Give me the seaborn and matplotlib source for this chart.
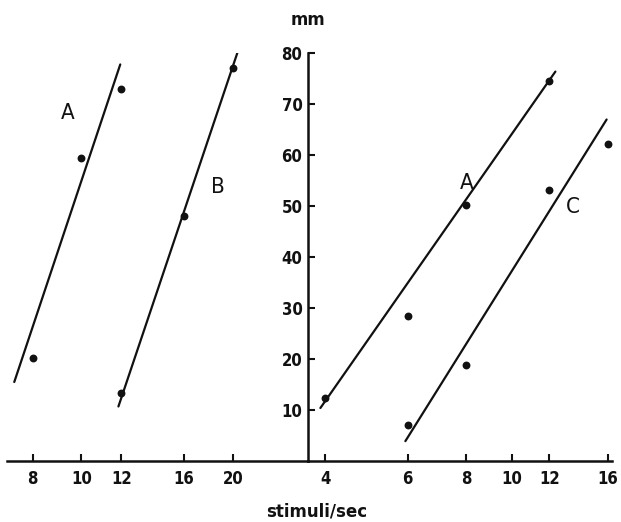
import numpy as np
import pandas as pd
import matplotlib
matplotlib.use("Agg")
import matplotlib.pyplot as plt
import seaborn as sns
from matplotlib import font_manager
from matplotlib.ticker import FixedLocator, FixedFormatter, NullLocator

# left panel (no y axis)
left_a_x = [8, 10, 12]
left_a_y = [20.1, 59.4, 72.8]
left_b_x = [12, 16, 20]
left_b_y = [13.2, 48.0, 77.0]
left_a_line_x = [7.36, 11.95]
left_a_line_y = [15.4, 77.7]
left_b_line_x = [11.85, 20.45]
left_b_line_y = [10.6, 80.2]
left_ticks = [8, 10, 12, 16, 20]

# right panel
right_a_x = [4, 6, 8, 12]
right_a_y = [12.3, 28.3, 50.2, 74.5]
right_c_x = [6, 8, 12, 16]
right_c_y = [6.9, 18.7, 53.0, 62.1]
right_a_line_x = [3.91, 12.37]
right_a_line_y = [10.3, 76.3]
right_c_line_x = [5.93, 15.9]
right_c_line_y = [3.8, 66.9]
right_ticks = [4, 6, 8, 10, 12, 16]
y_ticks = [10, 20, 30, 40, 50, 60, 70, 80]

sns.set_style("ticks")
installed = {f.name for f in font_manager.fontManager.ttflist}
narrow = "Liberation Sans Narrow" if "Liberation Sans Narrow" in installed else "DejaVu Sans"
plt.rcParams["font.family"] = [narrow, "DejaVu Sans"]
plt.rcParams["font.stretch"] = "condensed"

ink = "#111111"
fig = plt.figure(figsize=(6.21, 5.22), dpi=100)
ax_l = fig.add_axes([0.0113, 0.1178, 0.4847, 0.7812])
ax_r = fig.add_axes([0.496, 0.1178, 0.489, 0.7812])


def draw(ax, px, py, lx, ly):
    sns.lineplot(x=lx, y=ly, ax=ax, color=ink, lw=1.6)
    sns.scatterplot(x=px, y=py, ax=ax, color=ink, s=32, linewidth=0, zorder=3)


for ax in (ax_l, ax_r):
    ax.set_xscale("log")
    ax.set_ylim(0, 80)
    for s in ("top", "right"):
        ax.spines[s].set_visible(False)
    ax.spines["bottom"].set_linewidth(1.8)
    ax.spines["bottom"].set_color(ink)
    ax.tick_params(axis="both", direction="in", length=5, width=1.5, color=ink,
                   labelsize=12, labelcolor=ink)
    ax.tick_params(axis="x", pad=7)
    ax.xaxis.set_minor_locator(NullLocator())

draw(ax_l, left_a_x, left_a_y, left_a_line_x, left_a_line_y)
draw(ax_l, left_b_x, left_b_y, left_b_line_x, left_b_line_y)
draw(ax_r, right_a_x, right_a_y, right_a_line_x, right_a_line_y)
draw(ax_r, right_c_x, right_c_y, right_c_line_x, right_c_line_y)

ax_l.set_xlim(7.12, 28.2)
ax_l.xaxis.set_major_locator(FixedLocator(left_ticks))
ax_l.xaxis.set_major_formatter(FixedFormatter([str(t) for t in left_ticks]))
ax_l.spines["left"].set_visible(False)
ax_l.set_yticks([])

ax_r.set_xlim(3.68, 16.3)
ax_r.xaxis.set_major_locator(FixedLocator(right_ticks))
ax_r.xaxis.set_major_formatter(FixedFormatter([str(t) for t in right_ticks]))
ax_r.spines["left"].set_linewidth(1.8)
ax_r.spines["left"].set_color(ink)
ax_r.set_yticks(y_ticks)
ax_r.set_yticklabels([str(t) for t in y_ticks])
ax_r.tick_params(axis="y", pad=4)

for ax in (ax_l, ax_r):
    ax.set_xlabel("")
    ax.set_ylabel("")
    ax.patch.set_alpha(0)
    for t in ax.get_xticklabels() + ax.get_yticklabels():
        t.set_fontweight("bold")

lab = dict(fontsize=16, color=ink, ha="center", va="center")
ax_l.text(9.40, 68.1, "A", **lab)
ax_l.text(18.7, 53.7, "B", **lab)
ax_r.text(8.0, 54.4, "A", **lab)
ax_r.text(13.5, 49.8, "C", **lab)

fig.text(317 / 621, 1 - 512 / 522, "stimuli/sec", ha="center", va="center",
         fontsize=12, fontweight="bold", family=["DejaVu Sans"],
         fontstretch="normal", color=ink)
fig.text(307.5 / 621, 1 - 20 / 522, "mm", ha="center", va="center",
         fontsize=12, fontweight="bold", family=["DejaVu Sans"],
         fontstretch="normal", color=ink)

fig.savefig("out.png", dpi=100)
